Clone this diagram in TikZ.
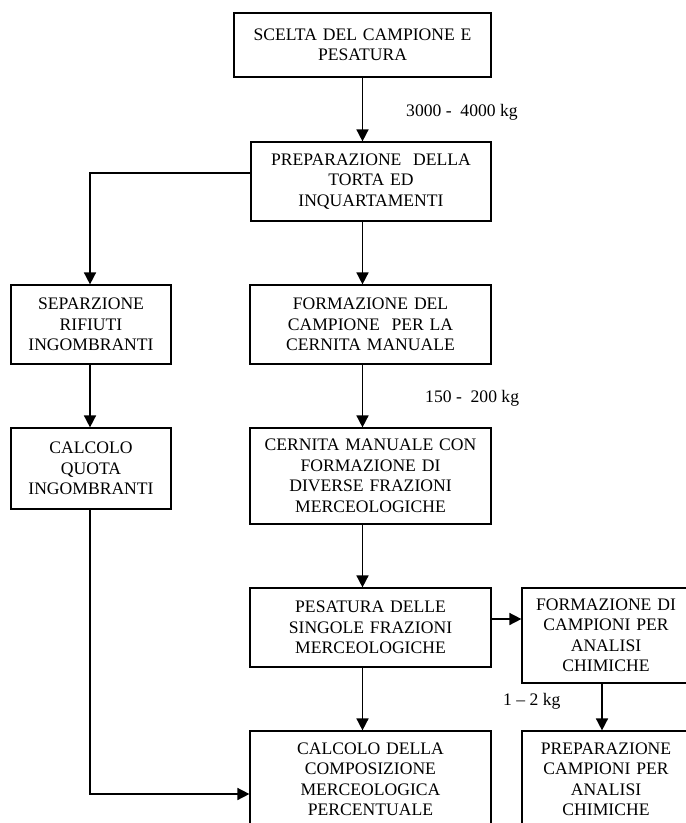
\documentclass[tikz,border=0pt]{standalone}
\usepackage{fontspec}
\setmainfont{Liberation Serif}
\usetikzlibrary{arrows.meta}
\begin{document}
\begin{tikzpicture}[x=1pt,y=-1pt,
  box/.style={draw, line width=1.2pt, align=center, inner sep=0pt, font=\fontsize{17.6}{20.5}\selectfont},
  arr/.style={line width=1.6pt, -{Triangle[length=12pt,width=12pt]}},
  lab/.style={anchor=west, inner sep=0pt, font=\fontsize{17.6}{20.5}\selectfont}]
\clip (0,0) rectangle (686,823);
\fill[white] (0,0) rectangle (686,823);

\node[box, minimum width=257pt, minimum height=64pt, text width=250pt] (b1) at (362.5,45) {SCELTA DEL CAMPIONE E\\PESATURA};
\node[box, minimum width=240pt, minimum height=79pt, text width=234pt] (b2) at (371,181.5) {PREPARAZIONE\ \ DELLA\\TORTA ED\\INQUARTAMENTI};
\node[box, minimum width=160pt, minimum height=79pt, text width=154pt] (b3) at (91,324.5) {SEPARZIONE\\RIFIUTI\\INGOMBRANTI};
\node[box, minimum width=160pt, minimum height=81pt, text width=154pt] (b4) at (91,468.5) {CALCOLO\\QUOTA\\INGOMBRANTI};
\node[box, minimum width=241pt, minimum height=79pt, text width=235pt] (b5) at (370.5,324.5) {FORMAZIONE DEL\\CAMPIONE\ \ PER LA\\CERNITA MANUALE};
\node[box, minimum width=241pt, minimum height=96pt, text width=235pt] (b6) at (370.5,476) {CERNITA MANUALE CON\\FORMAZIONE DI\\DIVERSE FRAZIONI\\MERCEOLOGICHE};
\node[box, minimum width=241pt, minimum height=79pt, text width=235pt] (b7) at (370.5,627.5) {PESATURA DELLE\\SINGOLE FRAZIONI\\MERCEOLOGICHE};
\node[box, minimum width=168pt, minimum height=95pt, text width=162pt] (b8) at (606,635.5) {FORMAZIONE DI\\CAMPIONI PER\\ANALISI\\CHIMICHE};
\node[box, minimum width=241pt, minimum height=96pt, text width=235pt] (b9) at (370.5,779) {CALCOLO DELLA\\COMPOSIZIONE\\MERCEOLOGICA\\PERCENTUALE};
\node[box, minimum width=168pt, minimum height=96pt, text width=162pt] (b10) at (606,779) {PREPARAZIONE\\CAMPIONI PER\\ANALISI\\CHIMICHE};

\coordinate (ax) at (362.5,0);
\coordinate (ax2) at (602,0);
\coordinate (lft) at (90,173);
\coordinate (jn) at (90,794);
\coordinate (rt) at (0,619);

\draw[arr] (b1.south -| ax) -- (b2.north -| ax);
\draw[arr] (b2.south -| ax) -- (b5.north -| ax);
\draw[arr] (b5.south -| ax) -- (b6.north -| ax);
\draw[arr] (b6.south -| ax) -- (b7.north -| ax);
\draw[arr] (b7.south -| ax) -- (b9.north -| ax);
\draw[arr] (b2.west |- lft) -- (lft) -- (b3.north -| lft);
\draw[arr] (b3.south -| lft) -- (b4.north -| lft);
\draw[arr] (b4.south -| jn) -- (jn) -- (b9.west |- jn);
\draw[arr] (b7.east |- rt) -- (b8.west |- rt);
\draw[arr] (b8.south -| ax2) -- (b10.north -| ax2);

\node[lab] (l1) at (406,112) {3000 -\ \ 4000 kg};
\node[lab] (l2) at (425,398) {150 -\ \ 200 kg};
\node[lab] (l3) at (503,701) {1 -- 2 kg};
\end{tikzpicture}
\end{document}
